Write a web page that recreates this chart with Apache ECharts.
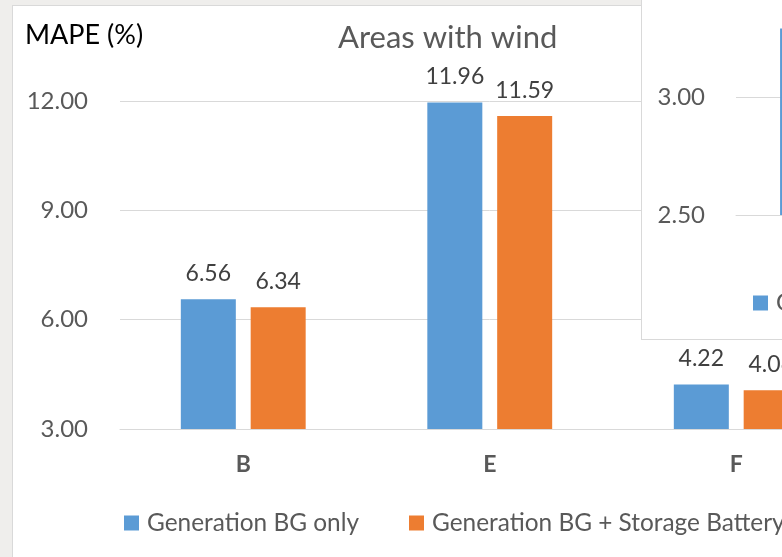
<!DOCTYPE html>
<html>
<head>
<meta charset="utf-8">
<script src="https://cdn.jsdelivr.net/npm/echarts@6/dist/echarts.min.js"></script>
<style>
  html, body { margin: 0; padding: 0; width: 782px; height: 557px; overflow: hidden; background: #efeeec; position: relative; }
  #main { position: absolute; left: 12px; top: 5px; width: 877px; height: 562px; box-sizing: border-box; border: 1px solid #d9d9d9; background: #fff; }
  #inset { position: absolute; left: 641px; top: -40px; width: 420px; height: 380px; box-sizing: border-box; border: 1px solid #d9d9d9; background: #fff; }
</style>
</head>
<body>
<div id="main"></div>
<div id="inset"></div>
<script>
// Areas with wind: MAPE per area
const categories = ['B', 'E', 'F'];
const bgOnly = [6.56, 11.96, 4.22];
const bgBattery = [6.34, 11.59, 4.06];
const seriesNames = ['Generation BG only', 'Generation BG + Storage Battery'];
const yMin = 3, yMax = 12, yStep = 3;

// Second chart window lying over the right side
const insetCategories = ['A'];
const insetBgOnly = [3.29];
const insetBgBattery = [null];
const insetMin = 2.5, insetMax = 3.5, insetStep = 0.5;

const FONT = 'Lato, "Open Sans", sans-serif';
const BLUE = '#5b9bd5', ORANGE = '#ed7d31';
const fmt2 = v => Number(v).toFixed(2);

const barLabel = {
  show: true, position: 'top', distance: 14,
  color: '#404040', fontFamily: FONT, fontSize: 23,
  formatter: p => fmt2(p.value)
};

const legendText = { fontFamily: FONT, fontSize: 24.4, color: '#595959', padding: [0, 0, 0, 3] };

const main = echarts.init(document.getElementById('main'), null, { renderer: 'canvas' });
main.setOption({
  animation: false,
  title: [
    { text: 'Areas with wind', left: 325, top: 16, padding: 0,
      textStyle: { fontFamily: FONT, fontSize: 31, fontWeight: 'normal', color: '#595959' } },
    { text: 'MAPE (%)', left: 12, top: 16, padding: 0,
      textStyle: { fontFamily: FONT, fontSize: 27, fontWeight: 'normal', color: '#000' } }
  ],
  legend: {
    data: seriesNames, left: 111, top: 505, padding: 0,
    itemWidth: 15, itemHeight: 15, itemGap: 50, icon: 'rect',
    textStyle: legendText
  },
  grid: { left: 107, top: 95, width: 739.5, height: 328, containLabel: false },
  xAxis: {
    type: 'category', data: categories,
    axisLine: { lineStyle: { color: '#d9d9d9', width: 1 } },
    axisTick: { show: false },
    axisLabel: { margin: 24, fontFamily: FONT, fontSize: 23, fontWeight: 'bold', color: '#595959' }
  },
  yAxis: {
    type: 'value', min: yMin, max: yMax, interval: yStep,
    axisLine: { show: false }, axisTick: { show: false },
    splitLine: { lineStyle: { color: '#d9d9d9', width: 1 } },
    axisLabel: { margin: 32, fontFamily: FONT, fontSize: 24, color: '#595959', formatter: fmt2 }
  },
  series: [
    { name: seriesNames[0], type: 'bar', data: bgOnly, barWidth: 55, barGap: '27%',
      itemStyle: { color: BLUE }, label: barLabel },
    { name: seriesNames[1], type: 'bar', data: bgBattery, barWidth: 55, barGap: '27%',
      itemStyle: { color: ORANGE }, label: barLabel }
  ]
});

const inset = echarts.init(document.getElementById('inset'), null, { renderer: 'canvas' });
inset.setOption({
  animation: false,
  legend: {
    data: [seriesNames[0]], left: 111, top: 330, padding: 0,
    itemWidth: 15, itemHeight: 15, icon: 'rect',
    textStyle: legendText
  },
  grid: { left: 94, top: 18, width: 213, height: 236, containLabel: false },
  xAxis: {
    type: 'category', data: insetCategories,
    axisLine: { lineStyle: { color: '#d9d9d9' } }, axisTick: { show: false },
    axisLabel: { margin: 24, fontFamily: FONT, fontSize: 23, fontWeight: 'bold', color: '#595959' }
  },
  yAxis: {
    type: 'value', min: insetMin, max: insetMax, interval: insetStep,
    axisLine: { show: false }, axisTick: { show: false },
    splitLine: { lineStyle: { color: '#d9d9d9', width: 1 } },
    axisLabel: { margin: 31, fontFamily: FONT, fontSize: 24, color: '#595959', formatter: fmt2 }
  },
  series: [
    { name: seriesNames[0], type: 'bar', data: insetBgOnly, barWidth: 55, barGap: '27%',
      itemStyle: { color: BLUE }, label: barLabel },
    { name: seriesNames[1], type: 'bar', data: insetBgBattery, barWidth: 55, barGap: '27%',
      itemStyle: { color: ORANGE }, label: barLabel }
  ]
});
</script>
</body>
</html>
